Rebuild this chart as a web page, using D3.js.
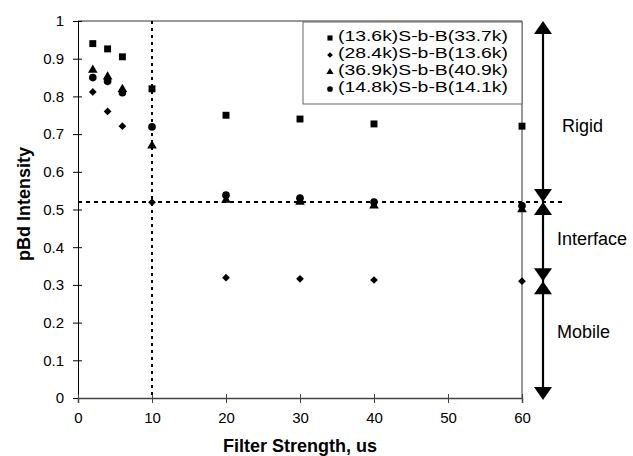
<!DOCTYPE html>
<html>
<head>
<meta charset="utf-8">
<script src="https://cdn.jsdelivr.net/npm/d3@7"></script>
<style>
  body { margin: 0; background: #fff; }
  text { font-family: Arial, "Liberation Sans", sans-serif; fill: #000; }
</style>
</head>
<body>
<svg id="chart" width="633" height="456"></svg>
<script>
// filter strength (us)
const filterStrength = [2, 4, 6, 10, 20, 30, 40, 60];
const seriesNames = ["(13.6k)S-b-B(33.7k)", "(28.4k)S-b-B(13.6k)", "(36.9k)S-b-B(40.9k)", "(14.8k)S-b-B(14.1k)"];
const squareVals   = [0.94, 0.926, 0.905, 0.82, 0.75, 0.74, 0.727, 0.721];
const diamondVals  = [0.812, 0.76, 0.721, 0.519, 0.319, 0.316, 0.313, 0.31];
const triangleVals = [0.87, 0.852, 0.819, 0.669, 0.525, 0.52, 0.51, 0.5];
const circleVals   = [0.85, 0.84, 0.81, 0.719, 0.538, 0.53, 0.52, 0.51];
const xTicks = [0, 10, 20, 30, 40, 50, 60];
const yTicks = [0, 0.1, 0.2, 0.3, 0.4, 0.5, 0.6, 0.7, 0.8, 0.9, 1];
const regionLabels = ["Rigid", "Interface", "Mobile"];
const regionBounds = [0.52, 0.31];   // interface / mobile limits
const cutoffX = 10;

const svg = d3.select("#chart");
const x = d3.scaleLinear().domain([0, 60]).range([78, 522]);
const y = d3.scaleLinear().domain([0, 1]).range([398, 21]);

// frame top / right
svg.append("path")
    .attr("d", `M${x(0)},${y(1)}H${x(60)}V${y(0)}`)
    .attr("fill", "none").attr("stroke", "#333").attr("stroke-width", 1);

// y axis
const yAxis = svg.append("g").attr("transform", `translate(${x(0)},0)`)
    .call(d3.axisLeft(y).tickValues(yTicks).tickSize(4).tickPadding(10)
        .tickFormat(d => (d === 0 || d === 1) ? String(d) : d.toFixed(1)));
yAxis.select(".domain").attr("stroke", "#000");
yAxis.selectAll(".tick line").attr("x2", 4).attr("x1", -5);
yAxis.selectAll("text").style("font-size", "15px");

// x axis
const xAxis = svg.append("g").attr("transform", `translate(0,${y(0)})`)
    .call(d3.axisBottom(x).tickValues(xTicks).tickSize(5).tickPadding(9));
xAxis.select(".domain").attr("stroke", "#444").attr("stroke-width", 1.5);
xAxis.selectAll(".tick line").attr("y1", -4).attr("y2", 5).attr("stroke", "#444");
xAxis.selectAll("text").style("font-size", "15px");

// axis titles
svg.append("text").attr("x", 300).attr("y", 452).attr("text-anchor", "middle")
    .style("font-size", "18px").style("font-weight", "bold").text("Filter Strength, us");
svg.append("text").attr("transform", "translate(30,204) rotate(-90)").attr("text-anchor", "middle")
    .style("font-size", "18px").style("font-weight", "bold").text("pBd Intensity");

// reference lines
svg.append("line")
    .attr("x1", x(cutoffX)).attr("x2", x(cutoffX)).attr("y1", y(1)).attr("y2", y(0))
    .attr("stroke", "#000").attr("stroke-width", 2).attr("stroke-dasharray", "3,4");
svg.append("line")
    .attr("x1", x(0)).attr("x2", 566).attr("y1", y(regionBounds[0])).attr("y2", y(regionBounds[0]))
    .attr("stroke", "#000").attr("stroke-width", 2).attr("stroke-dasharray", "4,4");

// markers (diamond = square turned 45 degrees)
const symbols = [d3.symbolSquare, d3.symbolSquare, d3.symbolTriangle, d3.symbolCircle];
const rotations = [0, 45, 0, 0];
const sizes = [48, 30, 40, 46];
const allSeries = [squareVals, diamondVals, triangleVals, circleVals];
allSeries.forEach((vals, i) => {
    svg.append("g").selectAll("path")
        .data(vals)
        .join("path")
        .attr("transform", (d, j) => `translate(${x(filterStrength[j])},${y(d)}) rotate(${rotations[i]})`)
        .attr("d", d3.symbol().type(symbols[i]).size(sizes[i]))
        .attr("fill", "#000");
});

// legend
const legend = svg.append("g");
legend.append("rect").attr("x", 303).attr("y", 22).attr("width", 219).attr("height", 82)
    .attr("fill", "#fff").attr("stroke", "#666").attr("stroke-width", 1);
seriesNames.forEach((name, i) => {
    const ly = 36 + i * 17;
    legend.append("path")
        .attr("transform", `translate(330,${ly + 2}) rotate(${rotations[i]})`)
        .attr("d", d3.symbol().type(symbols[i]).size(sizes[i] * 0.55))
        .attr("fill", "#000");
    legend.append("text").attr("x", 338).attr("y", ly + 5)
        .style("font-size", "14.5px").attr("textLength", 170).attr("lengthAdjust", "spacingAndGlyphs")
        .text(name);
});

// region arrows
const ax = 543;
const head = (tipY, dir) => `M${ax},${tipY}L${ax - 9},${tipY - dir * 13}L${ax + 9},${tipY - dir * 13}Z`;
svg.append("line").attr("x1", ax).attr("x2", ax).attr("y1", y(1) + 5).attr("y2", y(0))
    .attr("stroke", "#000").attr("stroke-width", 2.2);
const heads = [[y(1), -1], [y(0) + 2, 1]];
regionBounds.forEach(b => { heads.push([y(b), 1]); heads.push([y(b), -1]); });
svg.append("g").selectAll("path").data(heads).join("path")
    .attr("d", d => head(d[0], d[1])).attr("fill", "#000");

const labelY = [(y(1) + y(regionBounds[0])) / 2 + 15, (y(regionBounds[0]) + y(regionBounds[1])) / 2 - 3, (y(regionBounds[1]) + y(0)) / 2 - 8];
const labelX = [562, 557, 557];
regionLabels.forEach((t, i) => {
    svg.append("text").attr("x", labelX[i]).attr("y", labelY[i] + 6)
        .style("font-size", "18px").text(t);
});
</script>
</body>
</html>
